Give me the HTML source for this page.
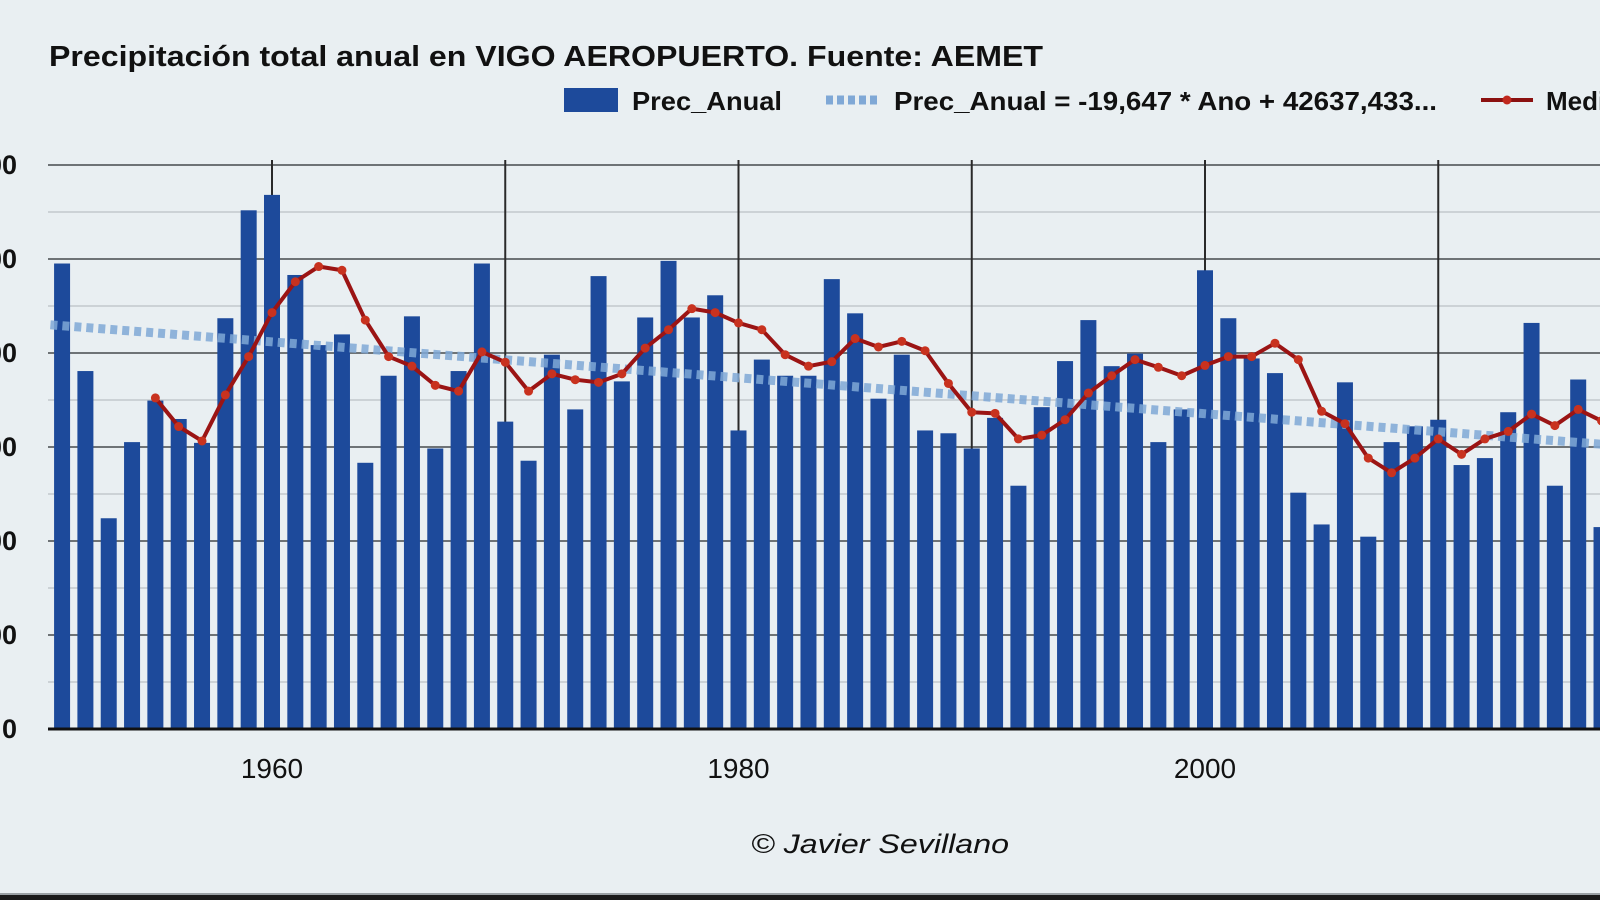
<!DOCTYPE html>
<html><head><meta charset="utf-8"><style>
html,body{margin:0;padding:0;background:#e9eff2;}
svg{display:block;}
text{font-family:"Liberation Sans Narrow","Liberation Sans",sans-serif;}
</style></head><body>
<svg id="chart" width="1600" height="900" viewBox="0 0 1600 900" xmlns="http://www.w3.org/2000/svg">
<rect x="0" y="0" width="1600" height="900" fill="#e9eff2"/>
<text x="49" y="66" font-size="29" font-weight="bold" fill="#111" textLength="994" lengthAdjust="spacingAndGlyphs">Precipitación total anual en VIGO AEROPUERTO. Fuente: AEMET</text>
<g>
<rect x="564" y="88" width="54" height="24" fill="#1d4a9b"/>
<text x="632" y="110" font-size="26" font-weight="bold" fill="#111" textLength="150" lengthAdjust="spacingAndGlyphs">Prec_Anual</text>
<line x1="826" y1="100" x2="880" y2="100" stroke="#7fa8d6" stroke-width="9" stroke-dasharray="7 4"/>
<text x="894" y="110" font-size="26" font-weight="bold" fill="#111" textLength="543" lengthAdjust="spacingAndGlyphs">Prec_Anual = -19,647 * Ano + 42637,433...</text>
<line x1="1481" y1="100" x2="1533" y2="100" stroke="#8b1010" stroke-width="4"/>
<circle cx="1507" cy="100" r="4.5" fill="#c0281e"/>
<text x="1546" y="110" font-size="26" font-weight="bold" fill="#111">Media móvil</text>
</g>
<g id="grid"></g>
<g id="bars"></g>
<g id="trend"></g>
<g id="avg"></g>
<g id="axes"></g>
<text x="880" y="853" font-size="27" font-style="italic" fill="#111" text-anchor="middle" textLength="258" lengthAdjust="spacingAndGlyphs">© Javier Sevillano</text>
<rect x="0" y="893" width="1600" height="2" fill="#9aa0a4"/>
<rect x="0" y="895" width="1600" height="5" fill="#1a1a1a"/>
</svg>
<script>
const years = [1951,1952,1953,1954,1955,1956,1957,1958,1959,1960,1961,1962,1963,1964,1965,1966,1967,1968,1969,1970,1971,1972,1973,1974,1975,1976,1977,1978,1979,1980,1981,1982,1983,1984,1985,1986,1987,1988,1989,1990,1991,1992,1993,1994,1995,1996,1997,1998,1999,2000,2001,2002,2003,2004,2005,2006,2007,2008,2009,2010,2011,2012,2013,2014,2015,2016,2017];
const precip = [2476,1904,1121,1526,1747,1649,1522,2185,2759,2841,2415,2042,2099,1416,1879,2195,1492,1904,2476,1635,1427,1991,1700,2409,1849,2189,2490,2189,2307,1588,1965,1879,1879,2393,2211,1757,1991,1588,1573,1492,1655,1294,1712,1957,2175,1930,1997,1526,1700,2440,2185,1971,1893,1257,1088,1844,1023,1526,1610,1645,1404,1441,1685,2160,1294,1859,1074];
const avgYears = [1955,1956,1957,1958,1959,1960,1961,1962,1963,1964,1965,1966,1967,1968,1969,1970,1971,1972,1973,1974,1975,1976,1977,1978,1979,1980,1981,1982,1983,1984,1985,1986,1987,1988,1989,1990,1991,1992,1993,1994,1995,1996,1997,1998,1999,2000,2001,2002,2003,2004,2005,2006,2007,2008,2009,2010,2011,2012,2013,2014,2015,2016,2017];
const avgValues = [1761,1609,1532,1777,1981,2215,2379,2460,2440,2175,1981,1930,1828,1797,2006,1951,1797,1889,1858,1844,1889,2026,2124,2236,2215,2160,2124,1991,1930,1954,2077,2032,2062,2012,1838,1685,1679,1543,1563,1645,1787,1879,1965,1924,1879,1934,1981,1981,2052,1965,1690,1624,1441,1363,1441,1543,1461,1543,1583,1675,1614,1700,1639];
const trendYears = [1950.5,2018];
const trendValues = [2150,1505];
const yTicks = [0,500,1000,1500,2000,2500,3000];
const yMinorTicks = [250,750,1250,1750,2250,2750];
const xGridYears = [1960,1970,1980,1990,2000,2010];
const xTicks = [1960,1980,2000];
const xTickLabels = ["1960","1980","2000"];

const NS="http://www.w3.org/2000/svg";
const X0=48, Y0=729, YTOP=165, YMAX=3000;
const pxPerYear = (1205-272)/40;
function xs(yr){ return 272 + (yr-1960)*pxPerYear; }
function ys(v){ return Y0 - v/YMAX*(Y0-YTOP); }
function mk(tag, attrs, parent){ const e=document.createElementNS(NS,tag); for(const k in attrs) e.setAttribute(k,attrs[k]); parent.appendChild(e); return e; }

const grid=document.getElementById('grid');
yMinorTicks.forEach(v=>{
  const l=mk('line',{x1:X0,x2:1600,y1:ys(v),y2:ys(v),stroke:'#c3c9cc','stroke-width':1.5},grid);
  
  
});
yTicks.forEach(v=>{
  const l=mk('line',{x1:X0,x2:1600,y1:ys(v),y2:ys(v),stroke:'#6e7376','stroke-width':2},grid);
  
  
  const t=mk('text',{x:17,y:ys(v)+9,'font-size':27,'font-weight':'bold','text-anchor':'end',fill:'#111'},grid);
  t.textContent=String(v);
  
  
});
xGridYears.forEach(yr=>{
  const l=mk('line',{x1:xs(yr),x2:xs(yr),y1:YTOP-5,y2:Y0,stroke:'#2a2a2a','stroke-width':2},grid);
  
  
});
xTicks.forEach((yr,i)=>{
  const t=mk('text',{x:xs(yr),y:778,'font-size':28,'text-anchor':'middle',fill:'#111'},grid);
  t.textContent=xTickLabels[i];
  
  
});

const bars=document.getElementById('bars');
years.forEach((yr,i)=>{
  const y=ys(precip[i]);
  const r=mk('rect',{x:xs(yr)-8,y:y,width:16,height:Y0-y,fill:'#1d4a9b'},bars);
  
  
});

const trend=document.getElementById('trend');
const tl=mk('line',{x1:xs(trendYears[0]),y1:ys(trendValues[0]),x2:xs(trendYears[1]),y2:ys(trendValues[1]),stroke:'#7fa8d6','stroke-width':9,'stroke-dasharray':'7 5','stroke-opacity':0.85},trend);



const avg=document.getElementById('avg');
const pts=avgYears.map((yr,i)=>xs(yr)+','+ys(avgValues[i])).join(' ');
const pl=mk('polyline',{points:pts,fill:'none',stroke:'#9b1414','stroke-width':4,'stroke-linejoin':'round'},avg);


avgYears.forEach((yr,i)=>{
  const c=mk('circle',{cx:xs(yr),cy:ys(avgValues[i]),r:4.5,fill:'#c8321f'},avg);
  
  
});

const axes=document.getElementById('axes');
const ax=mk('line',{x1:X0,x2:1600,y1:Y0,y2:Y0,stroke:'#111','stroke-width':3},axes);


</script>
</body></html>
